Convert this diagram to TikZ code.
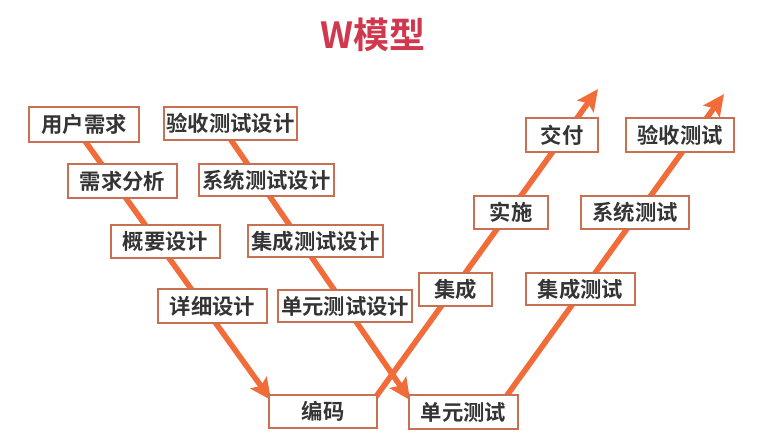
\documentclass[tikz,border=0pt]{standalone}
\usepackage{fontspec}
\newfontfamily\cjk{Noto Sans CJK SC}[BoldFont={Noto Sans CJK SC Bold}]
\usetikzlibrary{arrows.meta}
\definecolor{linec}{RGB}{242,108,58}
\definecolor{boxc}{RGB}{200,112,80}
\definecolor{txtc}{RGB}{52,52,52}
\definecolor{titlec}{RGB}{208,56,78}
\begin{document}
\begin{tikzpicture}[x=0.75pt,y=-0.75pt,
  bx/.style={draw=boxc,line width=1.4pt,fill=white,inner sep=0pt,text=txtc,
    font=\cjk\bfseries\fontsize{16}{19}\selectfont},
  wline/.style={draw=linec,line width=4.2pt,-{Stealth[length=16pt,width=15pt,inset=3pt]}},
  ttl/.style={text=titlec,font=\cjk\bfseries\fontsize{27}{32}\selectfont}]
\useasboundingbox (0,0) rectangle (760,432);
% arrow coordinates
\coordinate (s1) at (77,130);
\coordinate (e1) at (271,400);
\coordinate (s2) at (222,127);
\coordinate (e2) at (410,400);
\coordinate (s3) at (370,405);
\coordinate (e3) at (598,89);
\coordinate (s4) at (500,405);
\coordinate (e4) at (724,94);
\draw[wline] (s1) -- (e1);
\draw[wline] (s2) -- (e2);
\draw[wline] (s3) -- (e3);
\draw[wline] (s4) -- (e4);
% title
\node[ttl] (title) at (373,35) {W模型};
% boxes
\node[bx,minimum width=82.5pt,minimum height=26pt] (ur) at (84,124.5) {用户需求};
\node[bx,minimum width=100pt,minimum height=25pt] (ys) at (230.5,123.5) {验收测试设计};
\node[bx,minimum width=82pt,minimum height=25.5pt] (xq) at (122.5,181) {需求分析};
\node[bx,minimum width=101pt,minimum height=24pt] (xt) at (266.5,180) {系统测试设计};
\node[bx,minimum width=82pt,minimum height=25pt] (gy) at (165.5,241.5) {概要设计};
\node[bx,minimum width=101pt,minimum height=24pt] (jc) at (315.5,241) {集成测试设计};
\node[bx,minimum width=82pt,minimum height=25.5pt] (xx) at (212.5,306) {详细设计};
\node[bx,minimum width=100.5pt,minimum height=24pt] (dy) at (345,306) {单元测试设计};
\node[bx,minimum width=55pt,minimum height=25pt] (jcg) at (455.5,289.5) {集成};
\node[bx,minimum width=81pt,minimum height=25pt] (bm) at (323,411.5) {编码};
\node[bx,minimum width=82pt,minimum height=25.5pt] (dt) at (463.5,412) {单元测试};
\node[bx,minimum width=82pt,minimum height=24pt] (jcs) at (580.5,289) {集成测试};
\node[bx,minimum width=55.5pt,minimum height=25pt] (ss) at (511,212.5) {实施};
\node[bx,minimum width=81pt,minimum height=25pt] (xts) at (635,212.5) {系统测试};
\node[bx,minimum width=54pt,minimum height=25.5pt] (jf) at (562,135) {交付};
\node[bx,minimum width=81pt,minimum height=25.5pt] (ysc) at (680,135) {验收测试};
\end{tikzpicture}
\end{document}
